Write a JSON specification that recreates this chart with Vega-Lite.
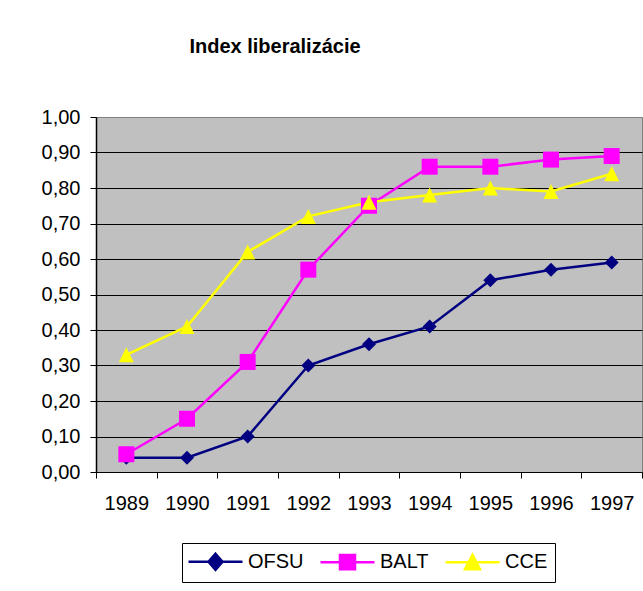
{
  "$schema": "https://vega.github.io/schema/vega-lite/v6.json",
  "width": 546,
  "height": 355,
  "autosize": {"type": "none"},
  "padding": {"left": 96, "top": 117, "right": 1, "bottom": 119},
  "background": "white",
  "title": {
    "text": "Index liberalizácie",
    "font": "Liberation Sans",
    "fontSize": 20,
    "fontWeight": "bold",
    "color": "black",
    "anchor": "middle",
    "dx": -94,
    "offset": 50
  },
  "data": {
    "values": [
      {"year": "1989", "series": "OFSU", "value": 0.04},
      {"year": "1990", "series": "OFSU", "value": 0.04},
      {"year": "1991", "series": "OFSU", "value": 0.10},
      {"year": "1992", "series": "OFSU", "value": 0.30},
      {"year": "1993", "series": "OFSU", "value": 0.36},
      {"year": "1994", "series": "OFSU", "value": 0.41},
      {"year": "1995", "series": "OFSU", "value": 0.54},
      {"year": "1996", "series": "OFSU", "value": 0.57},
      {"year": "1997", "series": "OFSU", "value": 0.59},
      {"year": "1989", "series": "BALT", "value": 0.05},
      {"year": "1990", "series": "BALT", "value": 0.15},
      {"year": "1991", "series": "BALT", "value": 0.31},
      {"year": "1992", "series": "BALT", "value": 0.57},
      {"year": "1993", "series": "BALT", "value": 0.75},
      {"year": "1994", "series": "BALT", "value": 0.86},
      {"year": "1995", "series": "BALT", "value": 0.86},
      {"year": "1996", "series": "BALT", "value": 0.88},
      {"year": "1997", "series": "BALT", "value": 0.89},
      {"year": "1989", "series": "CCE", "value": 0.33},
      {"year": "1990", "series": "CCE", "value": 0.41},
      {"year": "1991", "series": "CCE", "value": 0.62},
      {"year": "1992", "series": "CCE", "value": 0.72},
      {"year": "1993", "series": "CCE", "value": 0.76},
      {"year": "1994", "series": "CCE", "value": 0.78},
      {"year": "1995", "series": "CCE", "value": 0.80},
      {"year": "1996", "series": "CCE", "value": 0.79},
      {"year": "1997", "series": "CCE", "value": 0.84}
    ]
  },
  "encoding": {
    "x": {
      "field": "year",
      "type": "ordinal",
      "scale": {"type": "band", "paddingInner": 0, "paddingOuter": 0},
      "axis": {
        "title": null,
        "labelAngle": 0,
        "tickBand": "extent",
        "domainColor": "black",
        "domainWidth": 1,
        "tickColor": "black",
        "tickSize": 6,
        "labelFont": "Liberation Sans",
        "labelFontSize": 20,
        "labelColor": "black",
        "labelPadding": 15,
        "grid": false
      }
    },
    "y": {
      "field": "value",
      "type": "quantitative",
      "scale": {"domain": [0, 1], "nice": false},
      "axis": {
        "title": null,
        "values": [0, 0.1, 0.2, 0.3, 0.4, 0.5, 0.6, 0.7, 0.8, 0.9, 1.0],
        "labelExpr": "replace(format(datum.value, '.2f'), '.', ',')",
        "domainColor": "black",
        "domainWidth": 1.5,
        "tickColor": "black",
        "tickSize": 6,
        "labelFont": "Liberation Sans",
        "labelFontSize": 20,
        "labelColor": "black",
        "labelPadding": 10,
        "grid": true,
        "gridColor": {"condition": {"test": "datum.value >= 1", "value": "#808080"}, "value": "black"},
        "gridWidth": 1
      }
    },
    "color": {
      "field": "series",
      "type": "nominal",
      "scale": {"domain": ["OFSU", "BALT", "CCE"], "range": ["#000080", "#FF00FF", "#FFFF00"]},
      "legend": {
        "orient": "none",
        "legendX": 86,
        "legendY": 426,
        "direction": "horizontal",
        "title": null,
        "fillColor": "white",
        "strokeColor": "black",
        "padding": 7,
        "symbolSize": 400,
        "symbolOffset": 15,
        "symbolStrokeWidth": 2.5,
        "labelOffset": 21,
        "columnPadding": 11,
        "labelFont": "Liberation Sans",
        "labelFontSize": 20,
        "labelColor": "black",
        "encode": {
          "symbols": {
            "update": {
              "shape": {"signal": "datum.value === 'OFSU' ? 'M-2.7,0L2.7,0M0,-0.8L0.7,0L0,0.8L-0.7,0Z' : datum.value === 'BALT' ? 'M-2.7,0L2.7,0M-0.75,-0.72L0.75,-0.72L0.75,0.72L-0.75,0.72Z' : 'M-2.7,0L2.7,0M0,-0.72L0.75,0.72L-0.75,0.72Z'"},
              "fill": {"scale": "color", "field": "value"},
              "stroke": {"scale": "color", "field": "value"},
              "strokeWidth": {"value": 2.5},
              "opacity": {"value": 1}
            }
          }
        }
      }
    }
  },
  "layer": [
    {
      "mark": {"type": "line", "strokeWidth": 2.5}
    },
    {
      "transform": [{"filter": "datum.series === 'OFSU'"}],
      "mark": {"type": "point", "filled": true, "opacity": 1, "shape": "M0,-1L1,0L0,1L-1,0Z", "size": 196}
    },
    {
      "transform": [{"filter": "datum.series === 'BALT'"}],
      "mark": {"type": "point", "filled": true, "opacity": 1, "shape": "square", "size": 256}
    },
    {
      "transform": [{"filter": "datum.series === 'CCE'"}],
      "mark": {"type": "point", "filled": true, "opacity": 1, "shape": "M0,-1L1,1L-1,1Z", "size": 225}
    }
  ],
  "config": {
    "font": "Liberation Sans",
    "view": {"fill": "#C0C0C0", "stroke": "#808080", "strokeWidth": 1}
  }
}
